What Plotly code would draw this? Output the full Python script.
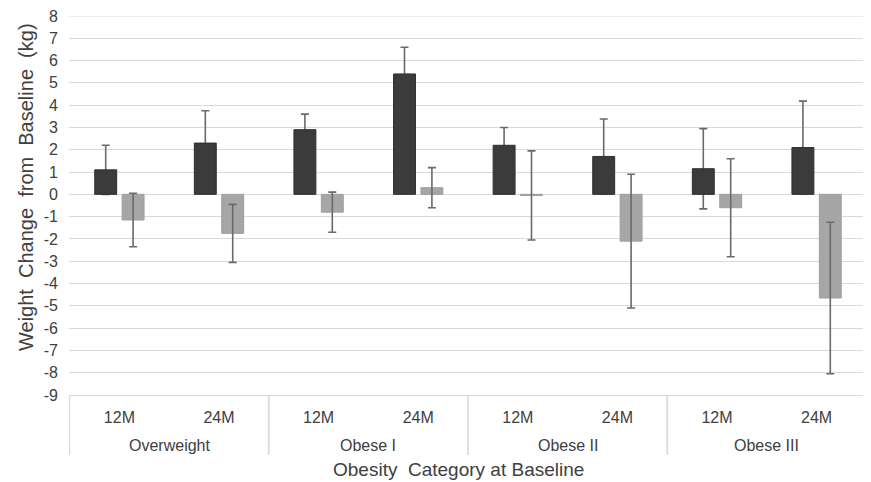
import plotly.graph_objects as go

groups = ["Overweight", "Overweight", "Obese I", "Obese I", "Obese II", "Obese II", "Obese III", "Obese III"]
periods = ["12M", "24M", "12M", "24M", "12M", "24M", "12M", "24M"]

dark_values = [1.1, 2.3, 2.9, 5.4, 2.2, 1.7, 1.15, 2.1]
dark_errors = [1.1, 1.45, 0.7, 1.2, 0.8, 1.68, 1.8, 2.08]
light_values = [-1.15, -1.75, -0.8, 0.3, -0.05, -2.1, -0.6, -4.65]
light_errors = [1.2, 1.3, 0.9, 0.9, 2.0, 3.0, 2.2, 3.4]

ytick_vals = list(range(-9, 9))
ytick_text = [str(v).replace("\u2212", "-") for v in ytick_vals]

font = "Liberation Sans, Arial, sans-serif"
txt = "#404040"
grid = "#d9d9d9"
err_col = "#6a6a6a"

cats = [g + " " + p for g, p in zip(groups, periods)]

# page body has an 8px margin; the figure is sized to fit the 871x482 window
W, H = 863, 474
L, R, T, B = 61, 4, 8, 87
plot_w = W - L - R
plot_h = H - T - B

fig = go.Figure()
# error bars for dark series drawn behind the dark bars
fig.add_trace(go.Bar(
    x=cats, y=dark_values, offsetgroup="dark",
    marker=dict(color="rgba(0,0,0,0)"),
    error_y=dict(type="data", array=dark_errors, visible=True, color=err_col, thickness=1.6, width=4),
    showlegend=False, hoverinfo="skip",
))
fig.add_trace(go.Bar(
    x=cats, y=dark_values, offsetgroup="dark",
    marker=dict(color="#3b3b3b", line=dict(color="#2f2f2f", width=1)),
    showlegend=False,
))
fig.add_trace(go.Bar(
    x=cats, y=light_values, offsetgroup="light",
    marker=dict(color="#a6a6a6", line=dict(color="#9e9e9e", width=1)),
    error_y=dict(type="data", array=light_errors, visible=True, color=err_col, thickness=1.6, width=4),
    showlegend=False,
))

# group labels and dividers below the axis
unique_groups = list(dict.fromkeys(groups))
annotations = []
shapes = []
for g in unique_groups:
    idx = [i for i, gg in enumerate(groups) if gg == g]
    annotations.append(dict(
        x=(idx[0] + idx[-1]) / 2, y=-50 / plot_h, xref="x", yref="paper",
        text=g, showarrow=False, font=dict(size=16, color=txt),
        xanchor="center", yanchor="middle",
    ))
    for b in (idx[0] - 0.5, idx[-1] + 0.5):
        shapes.append(dict(
            type="line", xref="x", yref="paper", x0=b, x1=b, y0=0, y1=-60 / plot_h,
            line=dict(color=grid, width=1.2),
        ))

# top gridline drawn explicitly (edge of range)
shapes.append(dict(
    type="line", xref="paper", yref="y", x0=0, x1=1, y0=ytick_vals[-1], y1=ytick_vals[-1],
    line=dict(color=grid, width=1.2), layer="below",
))

# axis titles
annotations.append(dict(
    x=(18 - L) / plot_w, y=(H - B - 179) / plot_h, xref="paper", yref="paper",
    text="Weight  Change  from  Baseline  (kg)", textangle=-90, showarrow=False,
    font=dict(size=20, color=txt), xanchor="center", yanchor="middle",
))
annotations.append(dict(
    x=(450 - L) / plot_w, y=(H - B - 461) / plot_h, xref="paper", yref="paper",
    text="Obesity  Category at Baseline", showarrow=False,
    font=dict(size=19, color=txt), xanchor="center", yanchor="middle",
))

fig.update_layout(
    width=W, height=H,
    margin=dict(l=L, r=R, t=T, b=B),
    paper_bgcolor="white", plot_bgcolor="white",
    barmode="group", bargap=0.45, bargroupgap=0.2,
    font=dict(family=font, size=16, color=txt),
    annotations=annotations,
    shapes=shapes,
    xaxis=dict(
        type="category",
        tickvals=cats, ticktext=periods,
        showgrid=False,
        showline=True, linecolor=grid, linewidth=1.2,
        ticks="", ticklabelstandoff=8,
        tickfont=dict(size=16, color=txt),
        automargin=False,
    ),
    yaxis=dict(
        range=[-9, 8],
        tickvals=ytick_vals, ticktext=ytick_text,
        showgrid=True, gridcolor=grid, gridwidth=1.2,
        zeroline=False,
        tickfont=dict(size=16, color=txt),
        ticks="", ticklabelstandoff=10,
        ticklabeloverflow="allow",
        automargin=False,
    ),
)

fig.write_html("out.html")
